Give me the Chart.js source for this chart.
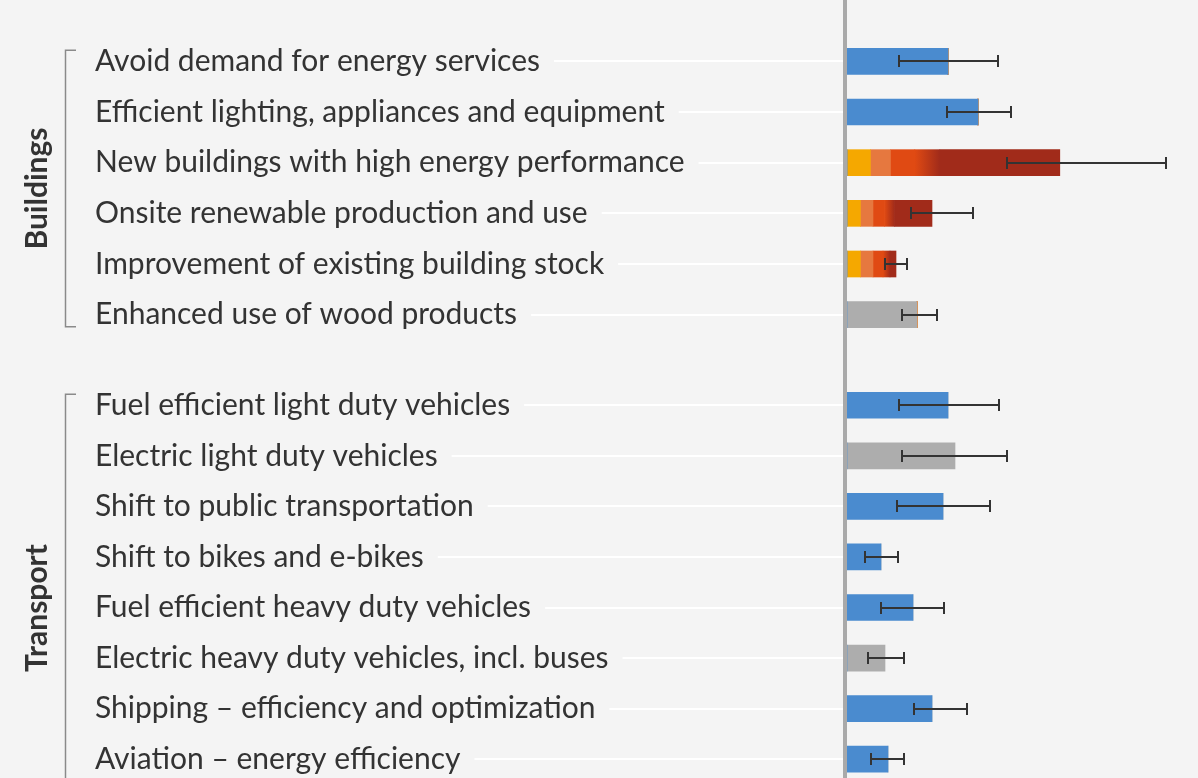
<!DOCTYPE html>
<html>
<head>
<meta charset="utf-8">
<script src="https://cdn.jsdelivr.net/npm/chart.js@4.4.1/dist/chart.umd.min.js"></script>
<style>
  html, body { margin: 0; padding: 0; background: #f4f4f4; overflow: hidden; }
  body { width: 1198px; height: 778px; position: relative; }
  canvas { position: absolute; left: 0; }
</style>
</head>
<body>
<canvas id="buildings" width="1198" height="360" style="top:0"></canvas>
<canvas id="transport" width="1198" height="500" style="top:360px"></canvas>
<script>
// ---------------------------------------------------------------------------
// Data (GtCO2-eq/yr)
// ---------------------------------------------------------------------------
const buildingLabels = [
    'Avoid demand for energy services',
    'Efficient lighting, appliances and equipment',
    'New buildings with high energy performance',
    'Onsite renewable production and use',
    'Improvement of existing building stock',
    'Enhanced use of wood products'
];
// cost bands stacked left to right
const buildingBlue       = [0.505, 0.655, 0,     0,     0,     0];
const buildingGray       = [0,     0,     0,     0,     0,     0.35];
const buildingYellow     = [0,     0,     0.117, 0.067, 0.067, 0];
const buildingLightOrng  = [0,     0,     0.100, 0.063, 0.063, 0];
const buildingOrange     = [0,     0,     0.122, 0.058, 0.050, 0];
const buildingRed        = [0,     0,     0.125, 0.050, 0.035, 0];
const buildingDarkRed    = [0,     0,     0.600, 0.187, 0.030, 0];
const buildingErrLow     = [0.26,  0.50,  0.80,  0.32,  0.19,  0.275];
const buildingErrHigh    = [0.755, 0.82,  1.595, 0.63,  0.30,  0.45];

const transportLabels = [
    'Fuel efficient light duty vehicles',
    'Electric light duty vehicles',
    'Shift to public transportation',
    'Shift to bikes and e-bikes',
    'Fuel efficient heavy duty vehicles',
    'Electric heavy duty vehicles, incl. buses',
    'Shipping \u2013 efficiency and optimization',
    'Aviation \u2013 energy efficiency',
    'Biofuels'   // below the visible crop
];
const transportBlue    = [0.505, 0,    0.48,  0.17,  0.33,  0,     0.425, 0.205, null];
const transportGray    = [0,     0.54, 0,     0,     0,     0.19,  0,     0,     null];
const transportErrLow  = [0.26,  0.275, 0.25, 0.09,  0.17,  0.105, 0.335, 0.12,  null];
const transportErrHigh = [0.76,  0.80, 0.715, 0.255, 0.485, 0.285, 0.60,  0.285, null];

// ---------------------------------------------------------------------------
// Styling
// ---------------------------------------------------------------------------
const COLORS = {
    blue: '#4a8bcf',
    gray: '#adadad',
    yellow: '#f5a800',
    lightOrange: '#e6783f',
    orange: '#e04a13',
    darkRed: '#a12b1a',
    text: '#333333',
    axis: '#a9a9a9',
    bracket: '#8a8a8a',
    errorBar: '#333333'
};
const LABEL_FONT = { family: 'Lato', size: 30 };
const LABEL_LEFT = 95;
const AXIS_X = 847;

// orange -> dark red blend for the transition band
function redGradient(ctx) {
    const chart = ctx.chart;
    const x = chart.scales.x;
    if (!x || ctx.type !== 'data') return COLORS.orange;
    const i = ctx.dataIndex;
    const sets = chart.data.datasets;
    let start = 0;
    for (let k = 0; k < ctx.datasetIndex; k++) start += sets[k].data[i] || 0;
    const end = start + (sets[ctx.datasetIndex].data[i] || 0);
    const x0 = x.getPixelForValue(start);
    const x1 = x.getPixelForValue(end);
    if (!Number.isFinite(x0) || !Number.isFinite(x1) || x1 - x0 < 1) return COLORS.orange;
    const g = chart.ctx.createLinearGradient(x0, 0, x1, 0);
    g.addColorStop(0, COLORS.orange);
    g.addColorStop(1, COLORS.darkRed);
    return g;
}

// leader lines, axis line, error bars, bracket and sector label
const sectorDecor = {
    id: 'sectorDecor',
    beforeDatasetsDraw(chart, args, opts) {
        const { ctx } = chart;
        const y = chart.scales.y;
        ctx.save();
        ctx.font = `${LABEL_FONT.size}px ${LABEL_FONT.family}`;
        ctx.strokeStyle = '#ffffff';
        ctx.lineWidth = 2;
        chart.data.labels.forEach((label, i) => {
            const yy = Math.round(y.getPixelForValue(i));
            const w = ctx.measureText(label).width;
            ctx.beginPath();
            ctx.moveTo(LABEL_LEFT + w + 14, yy);
            ctx.lineTo(AXIS_X - 2, yy);
            ctx.stroke();
        });
        ctx.restore();
    },
    afterDatasetsDraw(chart, args, opts) {
        const { ctx } = chart;
        const x = chart.scales.x;
        const y = chart.scales.y;

        // vertical zero line, full height
        ctx.save();
        ctx.fillStyle = COLORS.axis;
        ctx.fillRect(AXIS_X - 4, 0, 4, chart.height);

        // error bars
        ctx.strokeStyle = COLORS.errorBar;
        ctx.lineWidth = 2;
        opts.errLow.forEach((lo, i) => {
            const hi = opts.errHigh[i];
            if (lo == null || hi == null) return;
            const yy = Math.round(y.getPixelForValue(i));
            const x0 = x.getPixelForValue(lo);
            const x1 = x.getPixelForValue(hi);
            ctx.beginPath();
            ctx.moveTo(x0, yy); ctx.lineTo(x1, yy);
            ctx.moveTo(x0, yy - 6); ctx.lineTo(x0, yy + 6);
            ctx.moveTo(x1, yy - 6); ctx.lineTo(x1, yy + 6);
            ctx.stroke();
        });

        // bracket
        const n = chart.data.labels.length;
        const top = y.getPixelForValue(0) - 11;
        const bottom = y.getPixelForValue(n - 1) + 12;
        ctx.strokeStyle = COLORS.bracket;
        ctx.lineWidth = 1.5;
        ctx.beginPath();
        ctx.moveTo(76, top); ctx.lineTo(65.5, top);
        ctx.lineTo(65.5, bottom); ctx.lineTo(76, bottom);
        ctx.stroke();

        // rotated sector name
        ctx.translate(37, (top + bottom) / 2);
        ctx.rotate(-Math.PI / 2);
        ctx.fillStyle = COLORS.text;
        ctx.font = `bold 30px ${LABEL_FONT.family}`;
        ctx.textAlign = 'center';
        ctx.textBaseline = 'middle';
        ctx.fillText(opts.title, 0, 0);
        ctx.restore();
    }
};

function makeDatasets(bands) {
    return bands.map(([data, color]) => ({
        data,
        backgroundColor: color,
        borderWidth: 0,
        barThickness: 26
    }));
}

function makeChart(canvasId, labels, datasets, errLow, errHigh, title, padTop, padBottom) {
    return new Chart(document.getElementById(canvasId), {
        type: 'bar',
        data: { labels, datasets },
        options: {
            indexAxis: 'y',
            responsive: false,
            animation: false,
            layout: {
                autoPadding: false,
                padding: { left: LABEL_LEFT, right: 1, top: padTop, bottom: padBottom }
            },
            scales: {
                x: {
                    stacked: true,
                    min: 0,
                    max: 1.75,
                    display: false
                },
                y: {
                    stacked: true,
                    grid: { display: false },
                    border: { display: false },
                    ticks: {
                        crossAlign: 'far',
                        padding: 0,
                        color: COLORS.text,
                        font: LABEL_FONT
                    },
                    afterFit(scale) { scale.width = AXIS_X - LABEL_LEFT; }
                }
            },
            plugins: {
                legend: { display: false },
                tooltip: { enabled: false },
                sectorDecor: { errLow, errHigh, title }
            }
        },
        plugins: [sectorDecor]
    });
}

makeChart('buildings', buildingLabels, makeDatasets([
    [buildingBlue, COLORS.blue],
    [buildingGray, COLORS.gray],
    [buildingYellow, COLORS.yellow],
    [buildingLightOrng, COLORS.lightOrange],
    [buildingOrange, COLORS.orange],
    [buildingRed, redGradient],
    [buildingDarkRed, COLORS.darkRed]
]), buildingErrLow, buildingErrHigh, 'Buildings', 36, 20);

makeChart('transport', transportLabels, makeDatasets([
    [transportBlue, COLORS.blue],
    [transportGray, COLORS.gray]
]), transportErrLow, transportErrHigh, 'Transport', 20, 25);
</script>
</body>
</html>
